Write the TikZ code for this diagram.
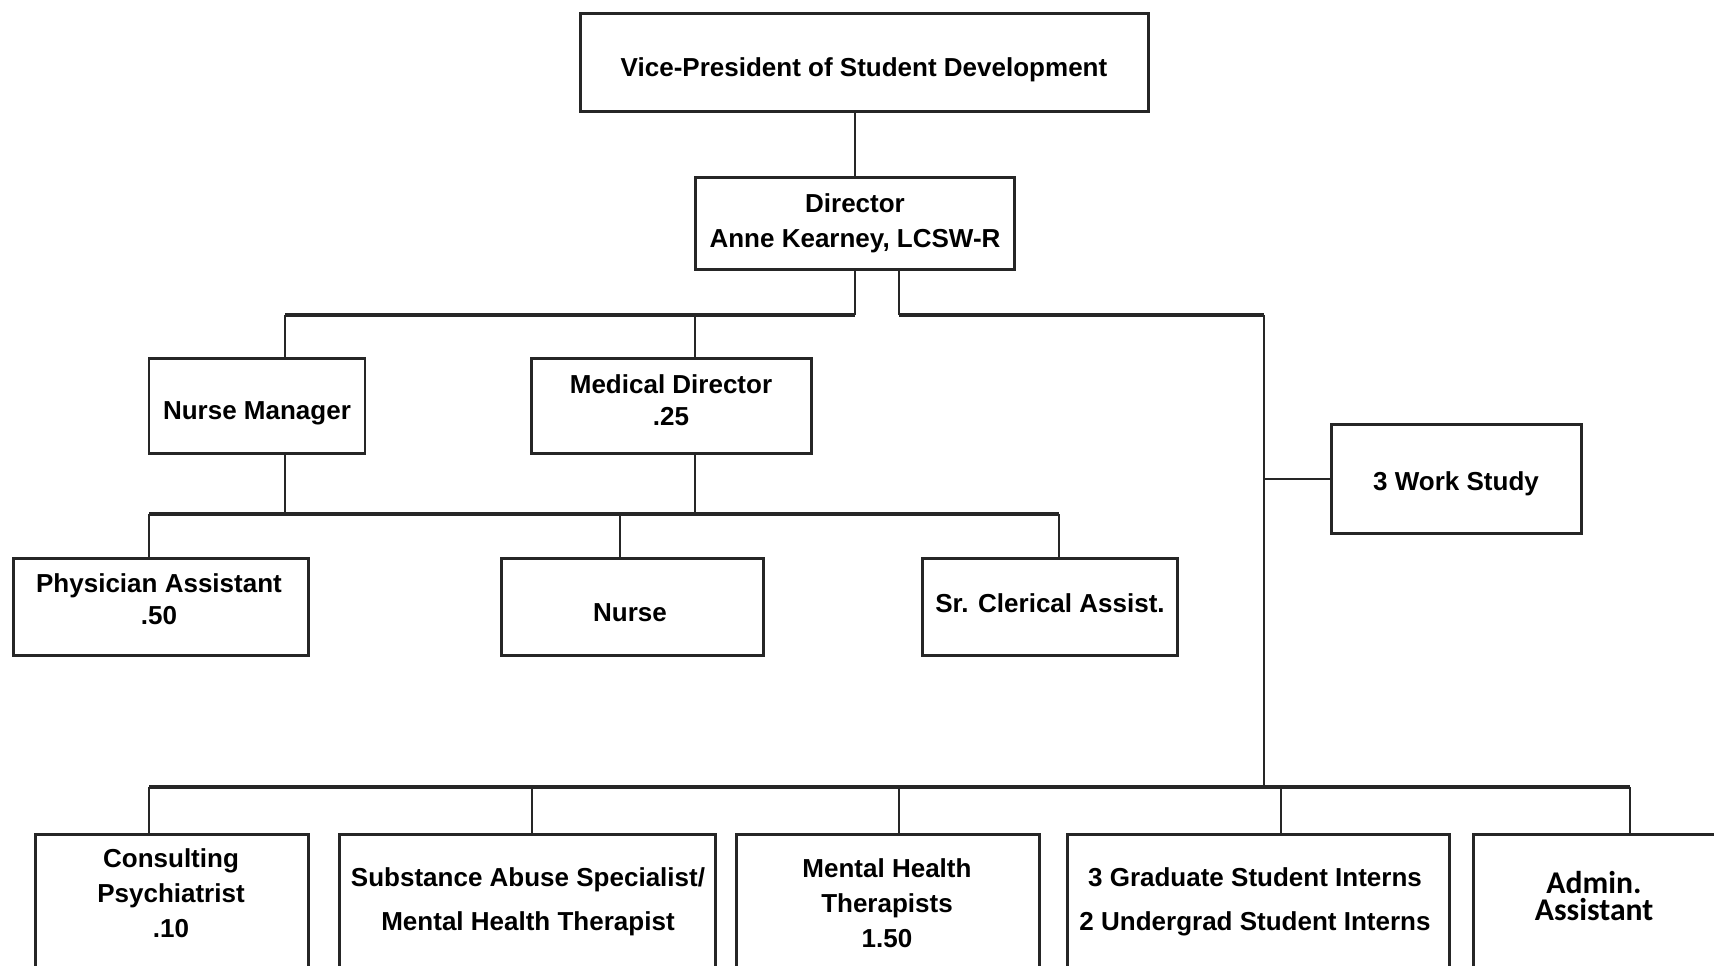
\documentclass[tikz,border=0pt]{standalone}
\usepackage{fontspec}
\newfontfamily\orgfont{Liberation Sans}
\newfontfamily\adminfont{Carlito}
\usetikzlibrary{positioning}

\begin{document}
\begin{tikzpicture}[
    x=0.1mm, y=-0.1mm,
    font=\orgfont\bfseries\fontsize{7.4}{9.9}\selectfont,
    box/.style={draw=black!85, line width=0.85pt, rectangle, inner sep=0pt, align=center},
    txt/.style={align=center, inner sep=0pt},
    line/.style={draw=black!85, line width=0.6pt},
    bus/.style={draw=black!85, line width=1pt}
]
\useasboundingbox (0,0) rectangle (1714,965);
\clip (0,0) rectangle (1714,965);

% Top levels
\node[box, minimum width=56.8mm, minimum height=9.8mm] (vp) at (864,62) {};
\node[txt] (vpT) at (864,70) {Vice-President of Student Development};
\node[box, minimum width=31.9mm, minimum height=9.2mm] (dir) at (855,223) {Director\\Anne Kearney, LCSW-R};

% Second level
\node[box, minimum width=21.6mm, minimum height=9.5mm] (nm) at (257,406) {};
\node[txt] (nmT) at (257,413) {Nurse Manager};
\node[box, minimum width=28mm, minimum height=9.5mm] (md) at (671,406) {};
\node[txt, font=\orgfont\bfseries\fontsize{7.4}{9.2}\selectfont] (mdT) at (671,400) {Medical Director\\.25};
\node[box, minimum width=25mm, minimum height=10.9mm] (ws) at (1456,479) {};
\node[txt] (wsT) at (1456,484) {3 Work Study};

% Third level
\node[box, minimum width=29.5mm, minimum height=9.7mm] (pa) at (161,607) {};
\node[txt, font=\orgfont\bfseries\fontsize{7.4}{9}\selectfont] (paT) at (159,599) {Physician Assistant\\.50};
\node[box, minimum width=26.2mm, minimum height=9.7mm] (nurse) at (632,607) {};
\node[txt] (nurseT) at (630,613) {Nurse};
\node[box, minimum width=25.5mm, minimum height=9.7mm] (sr) at (1050,607) {};
\node[txt] (srT) at (1050,603) {Sr. Clerical Assist.};

% Bottom row (cut by the page edge)
\node[box, anchor=north west, minimum width=27.3mm, minimum height=20mm] (cons) at (34,833) {};
\node[box, anchor=north west, minimum width=37.6mm, minimum height=20mm] (subs) at (338,833) {};
\node[box, anchor=north west, minimum width=30.3mm, minimum height=20mm] (mht) at (735,833) {};
\node[box, anchor=north west, minimum width=38.2mm, minimum height=20mm] (grad) at (1066,833) {};
\node[box, anchor=north west, minimum width=26mm, minimum height=20mm] (adm) at (1472,833) {};

\node[txt] (consT) at (171,893) {Consulting\\Psychiatrist\\.10};
\node[txt, font=\orgfont\bfseries\fontsize{7.4}{12.6}\selectfont] (subsT) at (528,902) {Substance Abuse Specialist/\\Mental Health Therapist};
\node[txt] (mhtT) at (887,903) {Mental Health\\Therapists\\1.50};
\node[txt, font=\orgfont\bfseries\fontsize{7.4}{12.6}\selectfont] (gradT) at (1255,902) {3 Graduate Student Interns\\2 Undergrad Student Interns};
\node[txt, font=\adminfont\bfseries\fontsize{9}{7.7}\selectfont] (admT) at (1594,896) {Admin.\\Assistant};

% Bus taps
\coordinate (tNM) at (285,315);
\coordinate (tMD) at (695,315);
\coordinate (tD) at (899,315);
\coordinate (tR) at (1264,315);
\coordinate (tPA) at (149,514);
\coordinate (tNU) at (620,514);
\coordinate (tSR) at (1059,514);
\coordinate (tL) at (149,787);
\coordinate (tE) at (1630,787);

% Connectors
\draw[line] (dir.north) -- (dir.north |- vp.south);
\draw[line] (dir.south) -- (dir.south |- tNM);
\draw[line] (tD |- dir.south) -- (tD);
\draw[bus] (tNM) -- (dir.south |- tNM);
\draw[bus] (tD) -- (tR);
\draw[line] (tNM) -- (tNM |- nm.north);
\draw[line] (tMD) -- (tMD |- md.north);
\draw[line] (tR) -- (tR |- tL);
\draw[line] (tR |- ws.west) -- (ws.west);

\draw[line] (tNM |- nm.south) -- (tNM |- tPA);
\draw[line] (tMD |- md.south) -- (tMD |- tPA);
\draw[bus] (tPA) -- (tSR);
\draw[line] (tPA) -- (tPA |- pa.north);
\draw[line] (tNU) -- (tNU |- nurse.north);
\draw[line] (tSR) -- (tSR |- sr.north);

\draw[bus] (tL) -- (tE);
\foreach \tx/\nd in {149/cons, 532/subs, 899/mht, 1281/grad, 1630/adm}
  \draw[line] (\tx,787) coordinate (t\nd) -- (t\nd |- \nd.north);

\end{tikzpicture}
\end{document}
